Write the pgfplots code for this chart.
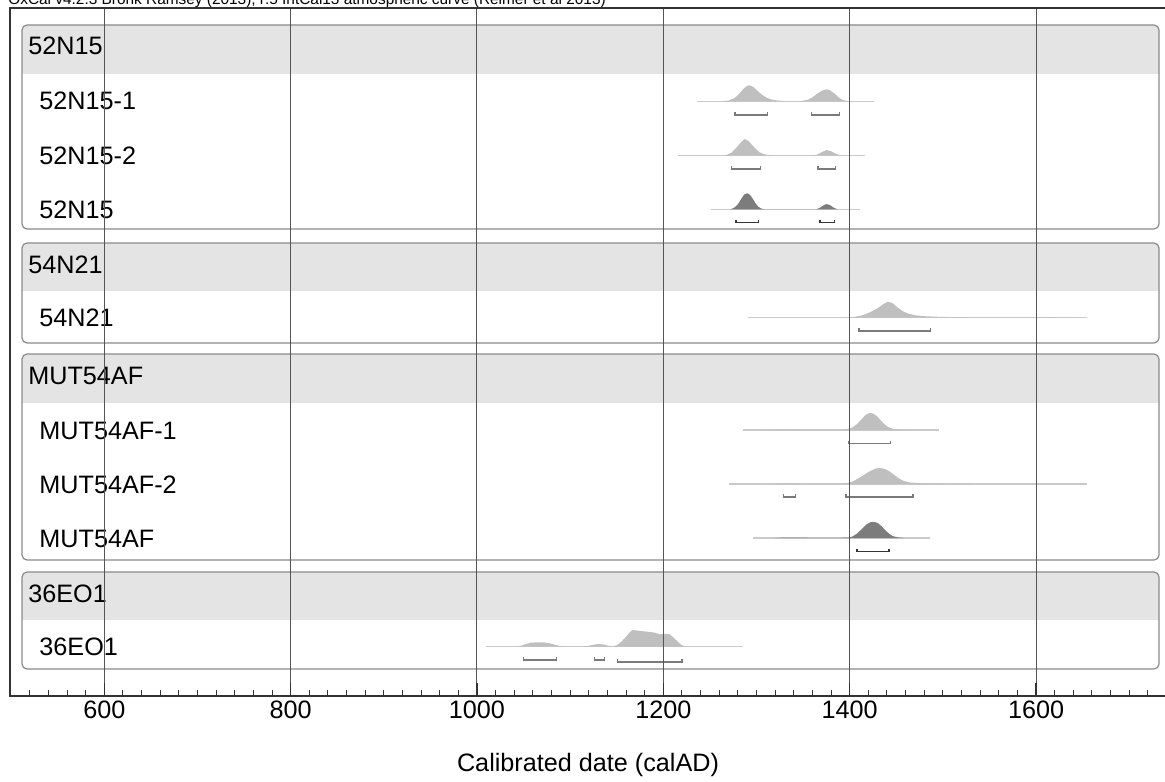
\documentclass[border=0pt]{standalone}
\usepackage{pgfplots}
\pgfplotsset{compat=1.18}
\usepackage{fontspec}
\setmainfont{Liberation Sans}

\definecolor{headgray}{HTML}{E4E4E4}
\definecolor{boxgray}{HTML}{8A8A8A}
\definecolor{distlight}{HTML}{BFBFBF}
\definecolor{distdark}{HTML}{7C7C7C}
\definecolor{basegray}{HTML}{CACACA}
\definecolor{brlight}{HTML}{7A7A7A}
\definecolor{brdark}{HTML}{363636}
\definecolor{gridgray}{HTML}{555555}
\definecolor{framegray}{HTML}{333333}

\newcommand\lbl{\fontsize{12.6}{15}\selectfont}

\pgfplotsset{
  lightdist/.style={fill=distlight, draw=none},
  darkdist/.style={fill=distdark, draw=none},
  baseline/.style={color=basegray, line width=0.6pt},
  lightbr/.style={color=brlight, line width=0.6pt},
  darkbr/.style={color=brdark, line width=0.7pt},
}

\begin{document}
\begin{tikzpicture}
\useasboundingbox (-5pt,-42.5pt) rectangle (577.5pt,348pt);
\begin{axis}[
  at={(0pt,0pt)}, anchor=south west,
  scale only axis, width=578pt, height=344pt,
  xmin=498.8, xmax=1739.5, ymin=8, ymax=696, y dir=reverse,
  axis on top, clip=false,
  axis line style={color=framegray, line width=0.8pt},
  xtick={600,800,1000,1200,1400,1600},
  xticklabels={600,800,1000,1200,1400,1600},
  minor xtick={520,540,...,1720},
  ytick=\empty, xtick pos=left,
  tick align=inside,
  major tick length=6.5pt, minor tick length=3.25pt,
  major tick style={color=framegray, line width=0.7pt},
  minor tick style={color=framegray, line width=0.5pt},
  xmajorgrids,
  major grid style={color=gridgray, line width=0.5pt},
  xticklabel style={font=\lbl, anchor=base, yshift=-11pt},
  xlabel={Calibrated date (calAD)},
  xlabel style={font=\lbl, at={(axis description cs:0.5,0)}, anchor=base, yshift=-37.9pt},
]

% group boxes: header band with rounded top corners, then the outline
\fill[headgray] (axis cs:511.7,74) [rounded corners=2.5pt] -- (axis cs:511.7,25) -- (axis cs:1732,25) [sharp corners] -- (axis cs:1732,74) -- cycle;
\draw[boxgray, line width=0.6pt, rounded corners=2.5pt] (axis cs:511.7,25) rectangle (axis cs:1732,229);
\fill[headgray] (axis cs:511.7,291) [rounded corners=2.5pt] -- (axis cs:511.7,243) -- (axis cs:1732,243) [sharp corners] -- (axis cs:1732,291) -- cycle;
\draw[boxgray, line width=0.6pt, rounded corners=2.5pt] (axis cs:511.7,243) rectangle (axis cs:1732,343);
\fill[headgray] (axis cs:511.7,403) [rounded corners=2.5pt] -- (axis cs:511.7,354) -- (axis cs:1732,354) [sharp corners] -- (axis cs:1732,403) -- cycle;
\draw[boxgray, line width=0.6pt, rounded corners=2.5pt] (axis cs:511.7,354) rectangle (axis cs:1732,560);
\fill[headgray] (axis cs:511.7,620) [rounded corners=2.5pt] -- (axis cs:511.7,572) -- (axis cs:1732,572) [sharp corners] -- (axis cs:1732,620) -- cycle;
\draw[boxgray, line width=0.6pt, rounded corners=2.5pt] (axis cs:511.7,572) rectangle (axis cs:1732,669);

% labels
\node[font=\lbl, anchor=base west, inner sep=0] at (axis cs:518.1,55) {52N15};
\node[font=\lbl, anchor=base west, inner sep=0] at (axis cs:530,110) {52N15-1};
\node[font=\lbl, anchor=base west, inner sep=0] at (axis cs:530,164) {52N15-2};
\node[font=\lbl, anchor=base west, inner sep=0] at (axis cs:530,218) {52N15};
\node[font=\lbl, anchor=base west, inner sep=0] at (axis cs:518.1,273) {54N21};
\node[font=\lbl, anchor=base west, inner sep=0] at (axis cs:530,326) {54N21};
\node[font=\lbl, anchor=base west, inner sep=0] at (axis cs:518.1,384) {MUT54AF};
\node[font=\lbl, anchor=base west, inner sep=0] at (axis cs:530,439) {MUT54AF-1};
\node[font=\lbl, anchor=base west, inner sep=0] at (axis cs:530,493) {MUT54AF-2};
\node[font=\lbl, anchor=base west, inner sep=0] at (axis cs:530,547) {MUT54AF};
\node[font=\lbl, anchor=base west, inner sep=0] at (axis cs:518.1,602) {36EO1};
\node[font=\lbl, anchor=base west, inner sep=0] at (axis cs:530,655) {36EO1};

% caption line at the top edge, cut by the page as in the original
\node[font=\fontsize{7.7}{9}\selectfont, anchor=base west, inner sep=0] at (axis cs:496.6,5)
  {OxCal v4.2.3 Bronk Ramsey (2013); r:5 IntCal13 atmospheric curve (Reimer et al 2013)};

% baselines of the distributions
\addplot[baseline] coordinates {(1236,101.3) (1426,101.3)};
\addplot[baseline] coordinates {(1216,155.7) (1416,155.7)};
\addplot[baseline] coordinates {(1251,209.3) (1411,209.3)};
\addplot[baseline] coordinates {(1291,317.7) (1655,317.7)};
\addplot[baseline] coordinates {(1286,430) (1496,430)};
\addplot[baseline] coordinates {(1271,484) (1655,484)};
\addplot[baseline] coordinates {(1296,538) (1486,538)};
\addplot[baseline] coordinates {(1010,646.7) (1286,646.7)};

% 52N15-1
\addplot[lightdist] coordinates {
(1262,101.3) (1270,100.5) (1276,98.3) (1281,94.3) (1286,88.8) (1290,85.8) (1293,85.3)
(1297,87.3) (1301,90.8) (1306,94.8) (1311,97.8) (1316,99.5) (1322,100.5) (1330,101.0)
(1340,101.2) (1348,101.0) (1355,99.8) (1360,97.3) (1365,93.8) (1370,90.8) (1375,89.3)
(1379,90.3) (1384,93.8) (1388,97.3) (1392,99.8) (1396,100.8) (1402,101.3)} -- cycle;
% 52N15-2
\addplot[lightdist] coordinates {
(1262,155.7) (1268,154.9) (1273,152.7) (1278,148.2) (1283,142.7) (1287,139.0) (1291,140.7)
(1295,144.7) (1299,148.7) (1303,152.2) (1308,154.2) (1314,155.2) (1322,155.7) (1360,155.7)
(1365,154.7) (1370,152.2) (1375,150.0) (1380,151.2) (1385,153.7) (1390,155.2) (1395,155.7)} -- cycle;
% 52N15 (combined)
\addplot[darkdist] coordinates {
(1272,209.3) (1276,207.8) (1280,204.3) (1284,198.3) (1287,194.3) (1290,193.3) (1293,194.8)
(1296,198.8) (1299,203.3) (1302,206.8) (1305,208.5) (1309,209.3) (1364,209.3) (1368,207.8)
(1372,205.3) (1375,204.0) (1379,205.1) (1383,207.8) (1387,209.3)} -- cycle;
% 54N21
\addplot[lightdist] coordinates {
(1395,317.7) (1405,316.9) (1414,315.2) (1422,312.2) (1430,308.2) (1436,304.2) (1441,301.7)
(1446,303.2) (1451,307.2) (1457,311.2) (1463,313.7) (1470,315.2) (1480,316.2) (1495,316.8)
(1510,317.1) (1530,317.3) (1560,317.4) (1600,317.3) (1615,317.2) (1630,317.4) (1650,317.7)} -- cycle;
% MUT54AF-1
\addplot[lightdist] coordinates {
(1310,430) (1325,429.6) (1335,429.4) (1345,429.7) (1360,429.9) (1390,429.8) (1397,429.2)
(1403,427.5) (1408,424) (1413,419) (1417,415) (1421,413) (1425,413.5) (1429,416)
(1433,420) (1437,424) (1441,427) (1446,428.8) (1452,429.6) (1460,430)} -- cycle;
% MUT54AF-2
\addplot[lightdist] coordinates {
(1310,484) (1325,483.6) (1335,483.4) (1345,483.7) (1360,483.9) (1390,483.8) (1397,483.2)
(1403,481.5) (1410,478) (1416,474.5) (1422,471) (1428,468.5) (1433,468) (1438,469)
(1443,471.5) (1448,475) (1453,478.5) (1458,481) (1465,482.5) (1475,483.2) (1490,483.6)
(1510,483.8) (1530,484)} -- cycle;
% MUT54AF (combined)
\addplot[darkdist] coordinates {
(1320,538) (1330,537.6) (1340,537.5) (1350,537.7) (1370,537.9) (1398,537.7) (1403,536.5)
(1408,533.5) (1413,529) (1418,524.5) (1422,522.3) (1426,521.8) (1430,523) (1434,526)
(1438,530) (1442,533.5) (1446,536) (1451,537.3) (1458,538)} -- cycle;
% 36EO1
\addplot[lightdist] coordinates {
(1040,646.7) (1046,646.2) (1052,644.2) (1058,642.7) (1065,642.3) (1072,642.4) (1078,643.2)
(1084,644.9) (1090,646.1) (1098,646.5) (1110,646.5) (1118,646.1) (1124,644.9) (1130,644.0)
(1136,644.5) (1141,645.9) (1146,646.2) (1150,645.2) (1155,641.7) (1160,636.7) (1164,632.2)
(1167,630.0) (1175,630.9) (1183,631.7) (1190,632.5) (1196,634.3) (1203,633.9) (1207,634.4)
(1211,637.7) (1215,641.2) (1219,644.7) (1223,646.2) (1228,646.7)} -- cycle;

% ranges
\addplot[lightbr] coordinates {(1277,112) (1277,115) (1312,115) (1312,112)};
\addplot[lightbr] coordinates {(1359,112) (1359,115) (1389,115) (1389,112)};
\addplot[lightbr] coordinates {(1273,166) (1273,169) (1304,169) (1304,166)};
\addplot[lightbr] coordinates {(1366,166) (1366,169) (1385,169) (1385,166)};
\addplot[darkbr] coordinates {(1278,219.5) (1278,222.5) (1302,222.5) (1302,219.5)};
\addplot[darkbr] coordinates {(1368,219.5) (1368,222.5) (1383.5,222.5) (1383.5,219.5)};
\addplot[lightbr] coordinates {(1410,328) (1410,331) (1487,331) (1487,328)};
\addplot[lightbr] coordinates {(1399,440.5) (1399,443.5) (1444,443.5) (1444,440.5)};
\addplot[lightbr] coordinates {(1329,494) (1329,497) (1342,497) (1342,494)};
\addplot[lightbr] coordinates {(1396,494) (1396,497) (1468,497) (1468,494)};
\addplot[darkbr] coordinates {(1408,548.5) (1408,551.5) (1442,551.5) (1442,548.5)};
\addplot[lightbr] coordinates {(1050,657) (1050,660) (1085,660) (1085,657)};
\addplot[lightbr] coordinates {(1126,657) (1126,660) (1137,660) (1137,657)};
\addplot[lightbr] coordinates {(1151,659) (1151,662) (1220,662) (1220,659)};

\end{axis}
\end{tikzpicture}
\end{document}
